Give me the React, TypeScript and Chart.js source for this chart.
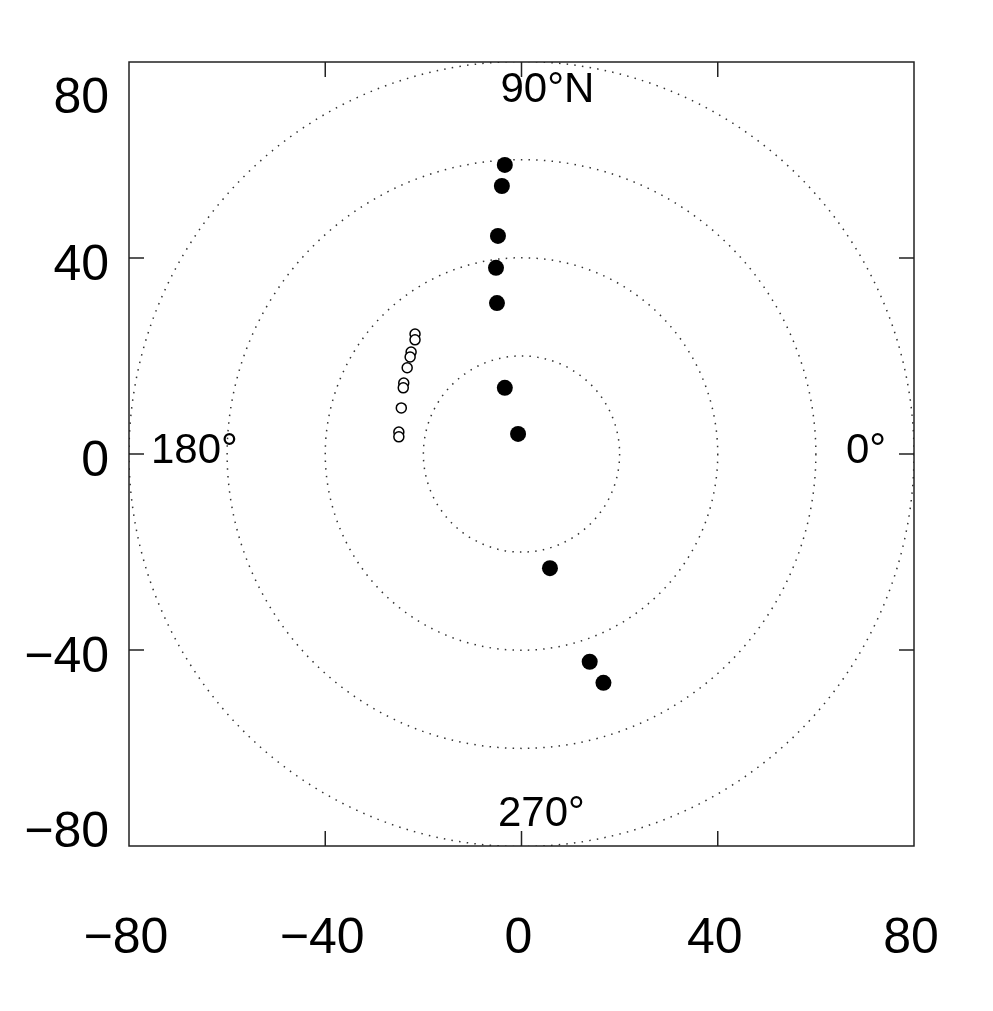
import React, { useEffect, useRef } from "react";
import { Chart, registerables } from "chart.js";

Chart.register(...registerables);

const xTicks = [-80, -40, 0, 40, 80];
const yTicks = [-80, -40, 0, 40, 80];
const ringRadii = [20, 40, 60, 80];

const filledX = [-3.4, -4.0, -4.8, -5.2, -5.0, -3.4, -0.7, 5.8, 13.9, 16.7];
const filledY = [59.0, 54.7, 44.5, 38.0, 30.8, 13.5, 4.1, -23.3, -42.4, -46.7];

const openX = [-21.7, -21.7, -22.5, -22.7, -23.3, -24.0, -24.1, -24.5, -25.0, -25.0];
const openY = [24.5, 23.3, 20.8, 19.8, 17.6, 14.5, 13.5, 9.4, 4.5, 3.5];

const angleLabels = ["90°N", "180°", "0°", "270°"];

const FONT = '"Liberation Sans", Arial, Helvetica, sans-serif';

const fmt = (v: number) => (v < 0 ? "\u2212" + Math.abs(v) : String(v));

const polarPlugin = {
  id: "polarDecor",
  beforeDatasetsDraw(chart: any) {
    const { ctx, chartArea, scales } = chart;
    const xs = scales.x;
    const ys = scales.y;
    const cx = xs.getPixelForValue(0);
    const cy = ys.getPixelForValue(0);
    ctx.save();
    ctx.beginPath();
    ctx.rect(chartArea.left, chartArea.top, chartArea.right - chartArea.left, chartArea.bottom - chartArea.top);
    ctx.clip();
    ctx.strokeStyle = "#333";
    ctx.lineWidth = 1.5;
    ctx.setLineDash([1.5, 6.2]);
    for (const r of ringRadii) {
      const rp = xs.getPixelForValue(r) - cx;
      ctx.beginPath();
      ctx.arc(cx, cy, rp, 0, Math.PI * 2);
      ctx.stroke();
    }
    ctx.restore();

    // angle labels
    ctx.save();
    ctx.fillStyle = "#000";
    ctx.font = `42px ${FONT}`;
    ctx.textAlign = "left";
    ctx.textBaseline = "alphabetic";
    ctx.fillText(angleLabels[0], cx - 21, chartArea.top + 40);
    ctx.fillText(angleLabels[1], chartArea.left + 22, cy + 9);
    ctx.fillText(angleLabels[2], chartArea.right - 68, cy + 9);
    ctx.fillText(angleLabels[3], cx - 23.5, chartArea.bottom - 20);
    ctx.restore();
  },
  afterDraw(chart: any) {
    const { ctx, chartArea, scales } = chart;
    const xs = scales.x;
    const ys = scales.y;
    const { left, right, top, bottom } = chartArea;
    ctx.save();
    ctx.strokeStyle = "#222";
    ctx.lineWidth = 1.5;
    ctx.setLineDash([]);
    ctx.strokeRect(left, top, right - left, bottom - top);
    const tl = 15;
    ctx.beginPath();
    for (const v of xTicks) {
      const px = xs.getPixelForValue(v);
      if (px <= left + 1 || px >= right - 1) continue;
      ctx.moveTo(px, bottom);
      ctx.lineTo(px, bottom - tl);
      ctx.moveTo(px, top);
      ctx.lineTo(px, top + tl);
    }
    for (const v of yTicks) {
      const py = ys.getPixelForValue(v);
      if (py <= top + 1 || py >= bottom - 1) continue;
      ctx.moveTo(left, py);
      ctx.lineTo(left + tl, py);
      ctx.moveTo(right, py);
      ctx.lineTo(right - tl, py);
    }
    ctx.stroke();

    ctx.fillStyle = "#000";
    ctx.font = `50px ${FONT}`;
    ctx.textBaseline = "alphabetic";
    ctx.textAlign = "center";
    for (const v of xTicks) {
      const px = xs.getPixelForValue(v);
      ctx.fillText(fmt(v), px - 3, bottom + 107);
    }
    ctx.textAlign = "right";
    for (const v of yTicks) {
      const py = ys.getPixelForValue(v);
      const base = Math.min(Math.max(py + 22, top + 51), bottom + 1);
      ctx.fillText(fmt(v), left - 20, base);
    }
    ctx.restore();
  },
};

export default function App() {
  const ref = useRef<HTMLCanvasElement | null>(null);
  useEffect(() => {
    if (!ref.current) return;
    const chart = new Chart(ref.current, {
      type: "scatter",
      data: {
        datasets: [
          {
            label: "filled",
            data: filledX.map((x, i) => ({ x, y: filledY[i] })),
            pointRadius: 8,
            pointBackgroundColor: "#000",
            pointBorderColor: "#000",
            pointBorderWidth: 0,
          },
          {
            label: "open",
            data: openX.map((x, i) => ({ x, y: openY[i] })),
            pointRadius: 5,
            pointBackgroundColor: "#fff",
            pointBorderColor: "#000",
            pointBorderWidth: 1.5,
          },
        ],
      },
      options: {
        animation: false,
        responsive: true,
        maintainAspectRatio: false,
        devicePixelRatio: 1,
        layout: { padding: { left: 129, right: 79, top: 62, bottom: 165 } },
        plugins: { legend: { display: false }, tooltip: { enabled: false } },
        scales: {
          x: { type: "linear", min: -80, max: 80, display: false },
          y: { type: "linear", min: -80, max: 80, display: false },
        },
      },
      plugins: [polarPlugin],
    });
    return () => chart.destroy();
  }, []);
  return (
    <div style={{ position: "fixed", left: 0, top: 0, width: 993, height: 1011, background: "#fff" }}>
      <canvas ref={ref} />
    </div>
  );
}
